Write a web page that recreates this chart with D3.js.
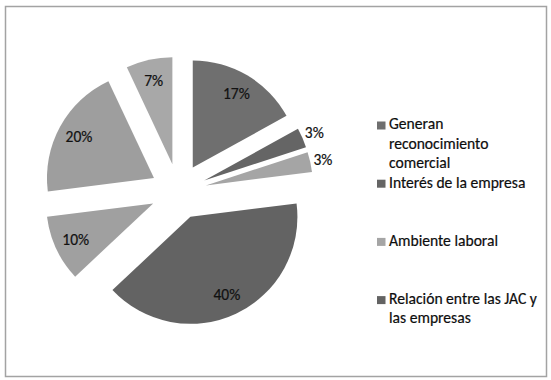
<!DOCTYPE html>
<html>
<head>
<meta charset="utf-8">
<script src="https://cdn.jsdelivr.net/npm/d3@7"></script>
<style>
  html, body { margin: 0; padding: 0; background: #fff; }
  svg { display: block; }
  text { font-family: Carlito, Calibri, Lato, sans-serif; }
</style>
</head>
<body>
<svg id="chart" width="551" height="380"></svg>
<script>
// ---- data ----
const sliceValues = [17, 3, 3, 40, 10, 20, 7];
const sliceLabels = ["17%", "3%", "3%", "40%", "10%", "20%", "7%"];
const legendLines = [
  ["Generan", "reconocimiento", "comercial"],
  ["Interés de la empresa"],
  ["Ambiente laboral"],
  ["Relación entre las JAC y", "las empresas"]
];

// ---- styles ----
const sliceColors = ["#6f6f6f", "#656565", "#a5a5a5", "#636363", "#a0a0a0", "#9e9e9e", "#a8a8a8"];
const legendColors = ["#6f6f6f", "#656565", "#a5a5a5", "#636363"];

const svg = d3.select("#chart");

// frame
svg.append("rect")
  .attr("x", 5.5).attr("y", 6.5)
  .attr("width", 541).attr("height", 370)
  .attr("fill", "#fff")
  .attr("stroke", "#a3a3a3")
  .attr("stroke-width", 1.5);

const cx = 178.5, cy = 191.5, r = 107, explode = 28;

const pie = d3.pie().sort(null).value(d => d);
const arcs = pie(sliceValues);
const arc = d3.arc().innerRadius(0).outerRadius(r);

const g = svg.append("g").attr("transform", `translate(${cx},${cy})`);

const slices = g.selectAll("g.slice").data(arcs).enter().append("g")
  .attr("class", "slice")
  .attr("transform", d => {
    const m = (d.startAngle + d.endAngle) / 2;
    return `translate(${explode * Math.sin(m)},${-explode * Math.cos(m)})`;
  });

slices.append("path")
  .attr("d", arc)
  .attr("fill", (d, i) => sliceColors[i]);

const labelR = d => (d.data < 5 ? r + 13 : r * 0.8);
slices.append("text")
  .attr("x", d => labelR(d) * Math.sin((d.startAngle + d.endAngle) / 2))
  .attr("y", d => -labelR(d) * Math.cos((d.startAngle + d.endAngle) / 2))
  .attr("text-anchor", "middle")
  .attr("dominant-baseline", "central")
  .attr("font-size", 15.5)
  .attr("fill", "#111")
  .attr("stroke", "#111").attr("stroke-width", 0.2)
  .text((d, i) => sliceLabels[i]);

// legend
const legend = svg.append("g");
const lx = 377, ly0 = 129.3, lstep = 58.2, lineH = 19.2;
legendLines.forEach((lines, i) => {
  const by = ly0 + i * lstep;
  legend.append("rect")
    .attr("x", lx).attr("y", by - 7.8)
    .attr("width", 8.5).attr("height", 8)
    .attr("fill", legendColors[i]);
  const t = legend.append("text")
    .attr("x", lx + 12).attr("y", by)
    .attr("font-size", 15.6)
    .attr("fill", "#0d0d0d")
    .attr("stroke", "#0d0d0d").attr("stroke-width", 0.2);
  lines.forEach((ln, j) => {
    t.append("tspan").attr("x", lx + 12).attr("y", by + j * lineH).text(ln);
  });
});
</script>
</body>
</html>
